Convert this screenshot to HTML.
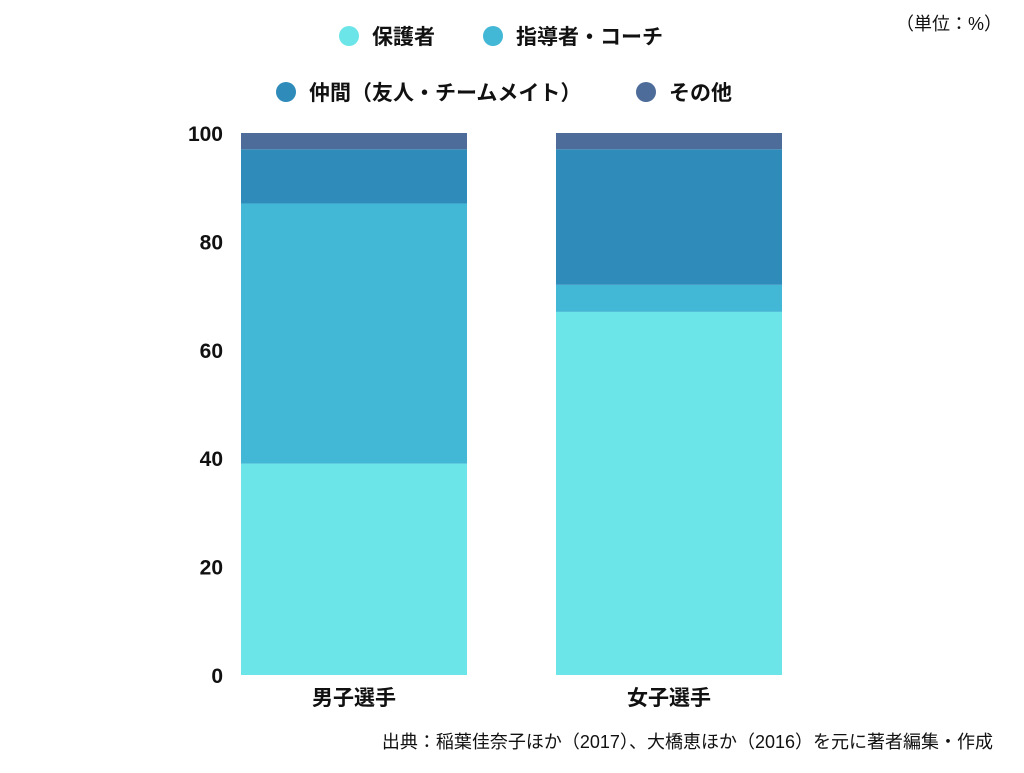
<!DOCTYPE html>
<html><head><meta charset="utf-8"><style>
body{margin:0;background:#fff;width:1024px;height:768px;overflow:hidden;font-family:"Liberation Sans","Noto Sans CJK JP",sans-serif}
svg text{font-family:"Liberation Sans","Noto Sans CJK JP",sans-serif}
</style></head><body>
<svg id="chart" width="1024" height="768" xmlns="http://www.w3.org/2000/svg">
<text x="1002" y="30" font-size="18" text-anchor="end" fill="#111">（単位：%）</text>
<g font-size="21" font-weight="bold" fill="#111">
<g><circle cx="349" cy="36" r="10" fill="#6ce5e8"/><text x="372" y="44">保護者</text></g>
<g><circle cx="493" cy="36" r="10" fill="#42b7d6"/><text x="516" y="44">指導者・コーチ</text></g>
<g><circle cx="286" cy="92" r="10" fill="#2e8bba"/><text x="309" y="100">仲間（友人・チームメイト）</text></g>
<g><circle cx="646" cy="92" r="10" fill="#4e6c9a"/><text x="669" y="100">その他</text></g>
</g>
<g id="yaxis"></g>
<g id="bars"></g>
<g id="xaxis"></g>
<text x="993" y="748" font-size="18" text-anchor="end" fill="#111">出典：稲葉佳奈子ほか（2017）、大橋恵ほか（2016）を元に著者編集・作成</text>
</svg>
<script>
const categories = ["男子選手", "女子選手"];
const seriesNames = ["保護者", "指導者・コーチ", "仲間（友人・チームメイト）", "その他"];
const parents = [39, 67];
const coaches = [48, 5];
const peers = [10, 25];
const others = [3, 3];
const yTicks = [0, 20, 40, 60, 80, 100];

const colors = ["#6ce5e8", "#42b7d6", "#2e8bba", "#4e6c9a"];
const series = [parents, coaches, peers, others];
const y0 = 675, y1 = 133, barW = 226, barX = [241, 556];
const ns = "http://www.w3.org/2000/svg";
const yScale = v => y0 - (v / 100) * (y0 - y1);
const yaxis = document.getElementById('yaxis');
yTicks.forEach(t => {
  const tx = document.createElementNS(ns, 'text');
  
  
  tx.setAttribute('x', 223); tx.setAttribute('y', yScale(t) + 8);
  tx.setAttribute('text-anchor', 'end'); tx.setAttribute('font-size', '21');
  tx.setAttribute('font-weight', 'bold'); tx.setAttribute('fill', '#111');
  tx.textContent = t; yaxis.appendChild(tx);
});
const bars = document.getElementById('bars');
categories.forEach((c, i) => {
  let cum = 0;
  series.forEach((s, k) => {
    const v = s[i];
    const r = document.createElementNS(ns, 'rect');
    
    
    r.setAttribute('x', barX[i]); r.setAttribute('width', barW);
    r.setAttribute('y', yScale(cum + v)); r.setAttribute('height', yScale(cum) - yScale(cum + v));
    r.setAttribute('fill', colors[k]);
    bars.appendChild(r);
    cum += v;
  });
  const tx = document.createElementNS(ns, 'text');
  
  
  tx.setAttribute('x', barX[i] + barW / 2); tx.setAttribute('y', 705);
  tx.setAttribute('text-anchor', 'middle'); tx.setAttribute('font-size', '21');
  tx.setAttribute('font-weight', 'bold'); tx.setAttribute('fill', '#111');
  tx.textContent = c;
  document.getElementById('xaxis').appendChild(tx);
});
</script>
</body></html>
